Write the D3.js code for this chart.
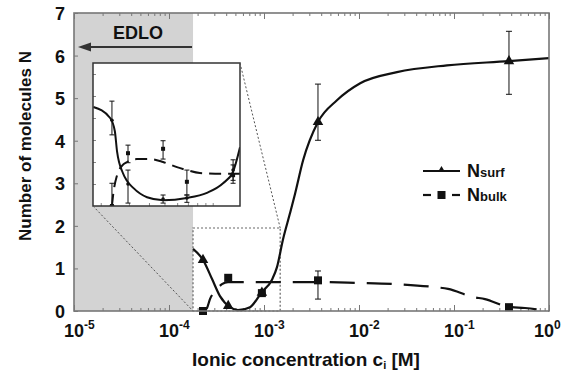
<!DOCTYPE html>
<html><head><meta charset="utf-8">
<script src="https://cdn.jsdelivr.net/npm/d3@7"></script>
<style>body{margin:0;background:#fff}svg{display:block}text{font-family:"Liberation Sans",Arial,sans-serif;font-weight:bold;fill:#111}</style>
</head><body>
<svg id="c" width="562" height="378"></svg>
<script>
// ---------- data ----------
const xTickValues = [1e-5, 1e-4, 1e-3, 1e-2, 1e-1, 1];
const xTickExponents = ["-5", "-4", "-3", "-2", "-1", "0"];
const yTickValues = [0, 1, 2, 3, 4, 5, 6, 7];

const concPoints = [2.28e-4, 4.2e-4, 9.5e-4, 3.7e-3, 0.379];
const nSurf   = [1.2, 0.12, 0.43, 4.44, 5.87];
const nSurfLo = [null, null, null, 4.01, 5.09];
const nSurfHi = [null, null, null, 5.33, 6.57];
const nBulk   = [0.0, 0.78, 0.42, 0.72, 0.09];
const nBulkLo = [null, null, null, 0.28, null];
const nBulkHi = [null, null, null, 0.94, null];

const surfFitC = [1.79e-4, 2.28e-4, 2.84e-4, 3.44e-4, 4.39e-4, 5.32e-4, 7.12e-4, 9.53e-4, 1.21e-3, 1.37e-3, 1.58e-3, 1.88e-3, 2.12e-3, 2.58e-3, 3.70e-3, 5.86e-3, 1.03e-2, 2.51e-2, 8.44e-2, 0.379, 1.0];
const surfFitN = [1.46, 1.20, 0.75, 0.35, 0.09, 0.02, 0.09, 0.45, 0.73, 1.03, 1.67, 2.30, 2.75, 3.54, 4.44, 4.95, 5.35, 5.61, 5.77, 5.87, 5.94];
const bulkFitC = [2.28e-4, 2.51e-4, 2.70e-4, 3.13e-4, 3.61e-4, 4.18e-4, 7.12e-4, 2.02e-3, 3.79e-3, 9.75e-3, 2.51e-2, 6.31e-2, 8.65e-2, 0.158, 0.212, 0.37, 0.558, 1.0];
const bulkFitN = [0.0, 0.07, 0.28, 0.49, 0.63, 0.68, 0.68, 0.68, 0.68, 0.66, 0.63, 0.56, 0.52, 0.33, 0.28, 0.10, 0.07, 0.0];

const edloLimit = 1.79e-4;
const insetDomainC = [1.79e-4, 1.48e-3];
const insetDomainN = [0, 1.95];

const insetConc   = [2.35e-4, 2.96e-4, 4.9e-4, 6.9e-4, 1.34e-3];
const insetSurf   = [1.17, 0.30, 0.095, 0.11, 0.49];
const insetSurfLo = [0.97, 0.04, 0.04, 0.05, 0.35];
const insetSurfHi = [1.43, 0.49, 0.15, 0.15, 0.63];
const insetBulk   = [0.0, 0.72, 0.78, 0.33, 0.42];
const insetBulkLo = [0.0, 0.59, 0.64, 0.15, 0.31];
const insetBulkHi = [0.31, 0.83, 0.89, 0.49, 0.56];

const insetSurfFitC = [1.80e-4, 2.29e-4, 2.45e-4, 2.53e-4, 2.75e-4, 2.90e-4, 3.18e-4, 3.89e-4, 4.9e-4, 6.9e-4, 9.2e-4, 1.16e-3, 1.34e-3, 1.48e-3];
const insetSurfFitN = [1.35, 1.20, 1.02, 0.74, 0.45, 0.35, 0.25, 0.12, 0.08, 0.11, 0.18, 0.31, 0.47, 0.80];
const insetBulkFitC = [2.35e-4, 2.40e-4, 2.53e-4, 2.72e-4, 2.92e-4, 3.36e-4, 4.06e-4, 4.9e-4, 5.98e-4, 6.9e-4, 8.32e-4, 1.16e-3, 1.48e-3];
const insetBulkFitN = [0.0, 0.18, 0.42, 0.55, 0.60, 0.64, 0.64, 0.60, 0.53, 0.49, 0.45, 0.44, 0.44];

// ---------- chart ----------
const svg = d3.select("#c");
const x = d3.scaleLog().domain([1e-5, 1]).range([74, 549]);
const y = d3.scaleLinear().domain([0, 7]).range([311, 13]);
const [X0, X1] = x.range(), [Y0, Y1] = y.range();
const frameCol = "#777", ink = "#111";

// shaded EDLO region
svg.append("rect").attr("x", X0).attr("y", Y1).attr("width", x(edloLimit) - X0).attr("height", Y0 - Y1).attr("fill", "#d3d3d3");

// zoom rectangle (dotted)
svg.append("rect").attr("x", x(insetDomainC[0])).attr("y", y(insetDomainN[1]))
  .attr("width", x(insetDomainC[1]) - x(insetDomainC[0])).attr("height", y(0) - y(insetDomainN[1]))
  .attr("fill", "none").attr("stroke", "#666").attr("stroke-width", 1.2).attr("stroke-dasharray", "2,2");

// axes ticks
const minor = x.ticks().filter(v => !xTickValues.includes(v));
function tickAxis(gen, tr, vals, size) {
  const g = svg.append("g").attr("transform", tr).call(gen.tickValues(vals).tickSize(size).tickFormat(""));
  g.select(".domain").remove();
  g.selectAll("line").attr("stroke", frameCol).attr("stroke-width", 1);
}
tickAxis(d3.axisBottom(x), `translate(0,${Y0})`, xTickValues, -6);
tickAxis(d3.axisBottom(x), `translate(0,${Y0})`, minor, -3);
tickAxis(d3.axisTop(x), `translate(0,${Y1})`, xTickValues, -6);
tickAxis(d3.axisTop(x), `translate(0,${Y1})`, minor, -3);
const ya = svg.append("g").attr("transform", `translate(${X0},0)`)
  .call(d3.axisLeft(y).tickValues(yTickValues).tickSize(-4).tickPadding(9).tickFormat(d3.format("d")));
ya.select(".domain").remove();
ya.selectAll("line").attr("stroke", frameCol);
ya.selectAll("text").attr("font-size", 18).attr("fill", ink).attr("font-family", null).attr("dy", "0.36em");

// x tick labels 10^n
xTickValues.forEach((v, i) => {
  const last = i === xTickValues.length - 1;
  const t = svg.append("text").attr("x", x(v) - (last ? 15 : 10)).attr("y", 337).attr("font-size", 18);
  t.append("tspan").text("10");
  t.append("tspan").attr("dy", -8).attr("font-size", 12).text(xTickExponents[i]);
});

// axis titles
svg.append("text").attr("transform", "translate(31,146) rotate(-90)").attr("text-anchor", "middle").attr("font-size", 17).text("Number of molecules N");
const xl = svg.append("text").attr("x", 306).attr("y", 366).attr("text-anchor", "middle").attr("font-size", 19);
xl.append("tspan").text("Ionic concentration c");
xl.append("tspan").attr("font-size", 11).attr("dy", 3).text("i");
xl.append("tspan").attr("dy", -3).text(" [M]");

// main curves
const line = d3.line().x(d => x(d[0])).y(d => y(d[1])).curve(d3.curveMonotoneX);
svg.append("path").attr("d", line(d3.zip(surfFitC, surfFitN))).attr("fill", "none").attr("stroke", ink).attr("stroke-width", 2.2);
svg.append("path").attr("d", line(d3.zip(bulkFitC, bulkFitN))).attr("fill", "none").attr("stroke", ink).attr("stroke-width", 2.2).attr("stroke-dasharray", "25,12").attr("stroke-dashoffset", 6);

function errBars(g, xs, lo, hi, sx, sy, cap) {
  xs.forEach((c, i) => {
    if (lo[i] == null) return;
    const px = sx(c);
    g.append("line").attr("x1", px).attr("x2", px).attr("y1", sy(lo[i])).attr("y2", sy(hi[i])).attr("stroke", ink).attr("stroke-width", 1);
    [lo[i], hi[i]].forEach(v => g.append("line").attr("x1", px - cap).attr("x2", px + cap).attr("y1", sy(v)).attr("y2", sy(v)).attr("stroke", ink).attr("stroke-width", 1));
  });
}
const mg = svg.append("g");
errBars(mg, concPoints, nSurfLo, nSurfHi, x, y, 3);
errBars(mg, concPoints, nBulkLo, nBulkHi, x, y, 3);
const tri = d3.symbol().type(d3.symbolTriangle).size(48)();
const sq = d3.symbol().type(d3.symbolSquare).size(64)();
concPoints.forEach((c, i) => {
  mg.append("path").attr("d", sq).attr("transform", `translate(${x(c)},${y(nBulk[i])})`).attr("fill", ink);
  mg.append("path").attr("d", tri).attr("transform", `translate(${x(c)},${y(nSurf[i])})`).attr("fill", ink);
});

// inset
const xi = d3.scaleLog().domain(insetDomainC).range([93, 240]);
const yi = d3.scaleLinear().domain(insetDomainN).range([206, 63]);
const ig = svg.append("g");
ig.append("rect").attr("x", 93).attr("y", 63).attr("width", 147).attr("height", 143).attr("fill", "#fff");
svg.append("clipPath").attr("id", "ic").append("rect").attr("x", 93).attr("y", 63).attr("width", 147).attr("height", 143);
const ia1 = ig.append("g").attr("transform", "translate(0,206)").call(d3.axisBottom(xi).tickValues([2e-4,3e-4,4e-4,5e-4,6e-4,7e-4,8e-4,9e-4,1e-3]).tickSize(-3).tickFormat(""));
const ia2 = ig.append("g").attr("transform", "translate(93,0)").call(d3.axisLeft(yi).tickValues([0.3,0.6,0.9,1.2,1.5,1.8]).tickSize(-3).tickFormat(""));
[ia1, ia2].forEach(a => { a.select(".domain").remove(); a.selectAll("line").attr("stroke", "#888"); });
const iline = d3.line().x(d => xi(d[0])).y(d => yi(d[1])).curve(d3.curveMonotoneX);
const ic = ig.append("g").attr("clip-path", "url(#ic)");
ic.append("path").attr("d", iline(d3.zip(insetSurfFitC, insetSurfFitN))).attr("fill", "none").attr("stroke", ink).attr("stroke-width", 2);
ic.append("path").attr("d", iline(d3.zip(insetBulkFitC, insetBulkFitN))).attr("fill", "none").attr("stroke", ink).attr("stroke-width", 2).attr("stroke-dasharray", "12,7");
errBars(ic, insetConc, insetSurfLo, insetSurfHi, xi, yi, 2.5);
errBars(ic, insetConc, insetBulkLo, insetBulkHi, xi, yi, 2.5);
insetConc.forEach((c, i) => {
  ic.append("circle").attr("cx", xi(c)).attr("cy", yi(insetSurf[i])).attr("r", 1.8).attr("fill", ink);
  ic.append("rect").attr("x", xi(c) - 2).attr("y", yi(insetBulk[i]) - 2).attr("width", 4).attr("height", 4).attr("fill", ink);
});
ig.append("rect").attr("x", 93).attr("y", 63).attr("width", 147).attr("height", 143).attr("fill", "none").attr("stroke", "#333").attr("stroke-width", 1.5);

// connector lines
[[[93, 206], [x(insetDomainC[0]), y(0)]], [[240, 63], [x(insetDomainC[1]), y(insetDomainN[1])]]].forEach(([a, b]) => {
  svg.append("line").attr("x1", a[0]).attr("y1", a[1]).attr("x2", b[0]).attr("y2", b[1]).attr("stroke", "#555").attr("stroke-width", 1).attr("stroke-dasharray", "2,2");
});

// EDLO label & arrow
svg.append("text").attr("x", 138).attr("y", 39).attr("text-anchor", "middle").attr("font-size", 18).text("EDLO");
svg.append("line").attr("x1", 89).attr("x2", x(edloLimit) - 1).attr("y1", 47).attr("y2", 47).attr("stroke", "#333").attr("stroke-width", 1.8);
svg.append("path").attr("d", "M78,47L91,42.5L91,51.5Z").attr("fill", "#333");

// frame
svg.append("rect").attr("x", X0).attr("y", Y1).attr("width", X1 - X0).attr("height", Y0 - Y1).attr("fill", "none").attr("stroke", frameCol).attr("stroke-width", 1.6);

// legend
const lg = svg.append("g");
lg.append("line").attr("x1", 423).attr("x2", 460).attr("y1", 171).attr("y2", 171).attr("stroke", ink).attr("stroke-width", 2);
lg.append("path").attr("d", d3.symbol().type(d3.symbolTriangle).size(22)()).attr("transform", "translate(441.5,170)").attr("fill", ink);
lg.append("line").attr("x1", 423).attr("x2", 431).attr("y1", 195).attr("y2", 195).attr("stroke", ink).attr("stroke-width", 2.2);
lg.append("line").attr("x1", 452).attr("x2", 460).attr("y1", 195).attr("y2", 195).attr("stroke", ink).attr("stroke-width", 2.2);
lg.append("rect").attr("x", 437.5).attr("y", 191).attr("width", 8).attr("height", 8).attr("fill", ink);
const t1 = lg.append("text").attr("x", 467).attr("y", 177).attr("font-size", 18);
t1.append("tspan").text("N"); t1.append("tspan").attr("font-size", 13).text("surf");
const t2 = lg.append("text").attr("x", 467).attr("y", 201).attr("font-size", 18);
t2.append("tspan").text("N"); t2.append("tspan").attr("font-size", 13).text("bulk");
</script>
</body></html>
